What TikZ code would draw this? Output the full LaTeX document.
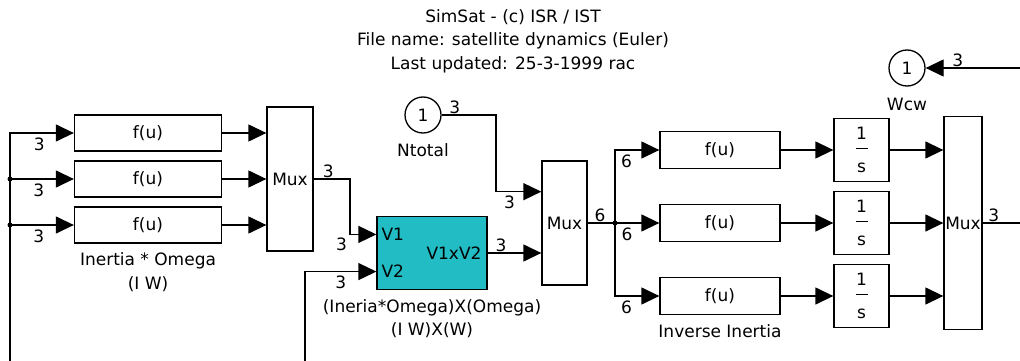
\documentclass[tikz,border=0pt]{standalone}
\usepackage{fontspec}
\setmainfont{DejaVu Sans}
\usetikzlibrary{arrows.meta,positioning,calc}
\definecolor{slteal}{HTML}{22BCC4}
\definecolor{slink}{HTML}{000000}

\tikzset{
  wire/.style={draw=slink, line width=1.3pt},
  sig/.style={wire, -{Triangle[length=18pt,width=17pt]}},
  blk/.style={draw=slink, line width=1.3pt, fill=white, inner sep=0pt},
  fcnbox/.style={blk, minimum width=147pt, minimum height=36pt},
  invbox/.style={blk, minimum width=120pt, minimum height=37pt},
  intbox/.style={blk, minimum width=55pt, minimum height=63pt, align=center},
  muxbox/.style={blk, minimum width=46pt},
  crossbox/.style={blk, fill=slteal, minimum width=110pt, minimum height=73pt},
  portc/.style={blk, circle, minimum size=36pt},
  dim/.style={inner sep=1pt},
  caption/.style={inner sep=1pt, align=center},
  tap/.style={circle, fill=slink, inner sep=0pt, minimum size=5pt}
}

\begin{document}
\begin{tikzpicture}[x=1pt, y=-1pt, font=\fontsize{17}{23.5}\selectfont]
  \useasboundingbox (0,0) rectangle (1020,361);

  \node[caption] (title) at (513,41) {SimSat - (c) ISR / IST\\File name: satellite dynamics (Euler)\\Last updated: 25-3-1999 rac};

  % I*W
  \node[fcnbox] (iw1) at (148,133) {f(u)};
  \node[fcnbox] (iw2) at (148,179) {f(u)};
  \node[fcnbox] (iw3) at (148,225) {f(u)};
  \node[caption, below=8pt of iw3] (iwlab) {Inertia * Omega\\(I W)};
  \node[muxbox, minimum height=144pt] (mux1) at (290,179) {Mux};

  % (I W) x W
  \node[crossbox] (cross) at (432,253) {};
  \coordinate (v1) at ($(cross.north west)!0.25!(cross.south west)$);
  \coordinate (v2) at ($(cross.north west)!0.75!(cross.south west)$);
  \node[anchor=west, inner sep=0pt] (v1lab) at ([xshift=5pt]v1) {V1};
  \node[anchor=west, inner sep=0pt] (v2lab) at ([xshift=5pt]v2) {V2};
  \node[anchor=east, inner sep=0pt] (v12lab) at ([xshift=-6pt]cross.east) {V1xV2};
  \node[caption, below=8pt of cross] (crosslab) {(Ineria*Omega)X(Omega)\\(I W)X(W)};

  \node[portc] (ntotal) at (423,115) {1};
  \node[caption, below=9pt of ntotal] (ntotlab) {Ntotal};
  \node[muxbox, minimum width=45pt, minimum height=124pt] (mux2) at (564.5,223) {Mux};
  \coordinate (m2a) at ($(mux2.north west)!0.25!(mux2.south west)$);

  % inverse inertia and integrators
  \node[invbox] (inv1) at (720,150) {f(u)};
  \node[invbox] (inv2) at (720,223) {f(u)};
  \node[invbox] (inv3) at (720,296) {f(u)};
  \node[caption, below=8pt of inv3] (invlab) {Inverse Inertia};
  \node[intbox] (int1) at (861.5,150) {1\\[-14pt]\rule{12pt}{1.3pt}\\s};
  \node[intbox] (int2) at (861.5,223) {1\\[-14pt]\rule{12pt}{1.3pt}\\s};
  \node[intbox] (int3) at (861.5,296) {1\\[-14pt]\rule{12pt}{1.3pt}\\s};
  \node[muxbox, minimum width=38pt, minimum height=213pt] (mux3) at (963,223) {Mux};

  \node[portc] (wcw) at (907,68) {1};
  \node[caption, below=10pt of wcw] (wcwlab) {Wcw};

  % coordinates at the picture edges
  \coordinate (fbl) at (10,361);
  \coordinate (fbm) at (305,361);
  \coordinate (bend1) at (350,0);
  \coordinate (bend2) at (496,0);
  \coordinate (split) at (615,223);
  \coordinate (wout) at (1020,223);
  \coordinate (win) at (1020,68);

  % feedback of omega
  \draw[sig] (fbl) |- (iw1.west) node[dim, pos=0.73, below=3pt] (d1) {3};
  \draw[sig] (fbl |- iw2) -- (iw2.west) node[dim, pos=0.45, below=3pt] (d2) {3};
  \draw[sig] (fbl |- iw3) -- (iw3.west) node[dim, pos=0.45, below=3pt] (d3) {3};
  \node[tap] (t1) at (fbl |- iw2) {};
  \node[tap] (t2) at (fbl |- iw3) {};
  \draw[sig] (fbm) |- (v2) node[dim, pos=0.75, below=3pt] (d4) {3};
  \node[tap, minimum size=4pt] (t3) at ([yshift=-3pt]fbm) {};

  \foreach \i in {1,2,3}
    \draw[sig] (iw\i.east) -- (iw\i.east -| mux1.west);

  \draw[sig] (mux1.east) -| (bend1 |- v1) node[dim, pos=0.2, above] (d5) {3} -- (v1) node[dim, at start, below left=2pt] (d6) {3};
  \draw[sig] (ntotal.east) -| (bend2 |- m2a) node[dim, pos=0.12, above] (d7) {3} -- (m2a) node[dim, pos=0.3, below=3pt] (d8) {3};
  \draw[sig] (cross.east) -- (cross.east -| mux2.west) node[dim, pos=0.25, above] (d9) {3};

  % split of the 6-vector
  \draw[wire] (mux2.east) -- (split) node[dim, pos=0.45, above] (d10) {6};
  \node[tap] (t4) at (split) {};
  \draw[sig] (split) |- (inv1.west) node[dim, pos=0.63, below=3pt] (d11) {6};
  \draw[sig] (split) -- (inv2.west) node[dim, pos=0.27, below=3pt] (d12) {6};
  \draw[sig] (split) |- (inv3.west) node[dim, pos=0.63, below=3pt] (d13) {6};

  \foreach \i in {1,2,3} {
    \draw[sig] (inv\i.east) -- (int\i.west);
    \draw[sig] (int\i.east) -- (int\i.east -| mux3.west);
  }

  \draw[wire] (mux3.east) -- (wout) node[dim, pos=0.3, above] (d14) {3};
  \draw[sig] (win) -- (wcw.east) node[dim, pos=0.66, above] (d15) {3};
\end{tikzpicture}
\end{document}
